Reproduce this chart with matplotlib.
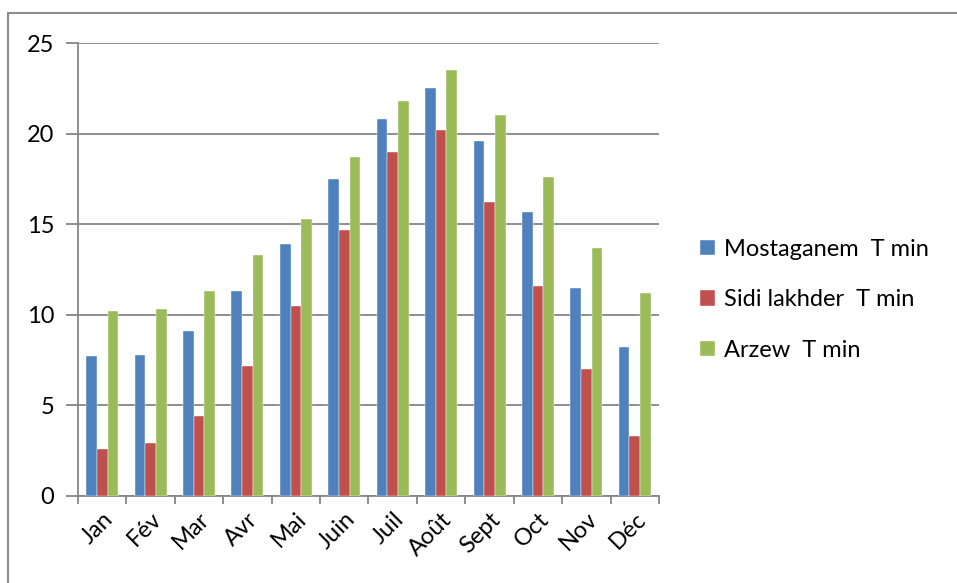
import matplotlib.pyplot as plt
import numpy as np
from matplotlib.patches import Rectangle

months = ['Jan', 'Fév', 'Mar', 'Avr', 'Mai', 'Juin', 'Juil', 'Août', 'Sept', 'Oct', 'Nov', 'Déc']
mostaganem = [7.7, 7.8, 9.1, 11.3, 13.9, 17.5, 20.8, 22.5, 19.6, 15.7, 11.5, 8.2]
sidi_lakhder = [2.6, 2.9, 4.4, 7.2, 10.5, 14.7, 19.0, 20.2, 16.2, 11.6, 7.0, 3.3]
arzew = [10.2, 10.3, 11.3, 13.3, 15.3, 18.7, 21.8, 23.5, 21.0, 17.6, 13.7, 11.2]
series_names = ['Mostaganem  T min', 'Sidi lakhder  T min', 'Arzew  T min']
colors = ['#4F81BD', '#C0504D', '#9BBB59']

plt.rcParams['font.family'] = ['Lato', 'DejaVu Sans']
fs = 17

fig = plt.figure(figsize=(9.57, 5.83), dpi=100)
# chart area frame (only top/left visible in the crop)
fig.patches.append(Rectangle((8 / 957, -0.1), 1.2, 1 - 13 / 583 + 0.1, transform=fig.transFigure,
                             fill=False, edgecolor='#8C8C8C', linewidth=1.5))
ax = fig.add_axes([78 / 957, 1 - 496 / 583, (659 - 78) / 957, (496 - 43) / 583])

x = np.arange(len(months))
w = 0.22
for i, (vals, name) in enumerate(zip([mostaganem, sidi_lakhder, arzew], series_names)):
    ax.bar(x + (i - 1) * w, vals, w, color=colors[i], label=name, zorder=3,
           edgecolor='white', linewidth=0.3)

ax.set_xlim(-0.5, len(months) - 0.5)
ax.set_ylim(0, 25)
ax.set_yticks(range(0, 26, 5))
ax.set_xticks(x)
ax.set_xticklabels(months, rotation=45, ha='right', rotation_mode='anchor', fontsize=fs)
ax.set_xticks(np.arange(-0.5, len(months), 1), minor=True)
ax.tick_params(axis='x', which='major', length=0, pad=9)
ax.tick_params(axis='x', which='minor', length=6, color='#868686', width=1.3)
ax.tick_params(axis='y', length=9, color='#868686', width=1.3, labelsize=fs, pad=8)

ax.grid(axis='y', color='#868686', linewidth=1.3, zorder=0)
for s in ['top', 'right']:
    ax.spines[s].set_visible(False)
for s in ['left', 'bottom']:
    ax.spines[s].set_color('#868686')
    ax.spines[s].set_linewidth(1.3)

ax.legend(loc='center left', bbox_to_anchor=(1.07, 0.433), frameon=False, fontsize=fs,
          handlelength=0.65, handleheight=0.65, handletextpad=0.4, labelspacing=1.25,
          borderpad=0, borderaxespad=0)

fig.savefig('out.png', dpi=100)
